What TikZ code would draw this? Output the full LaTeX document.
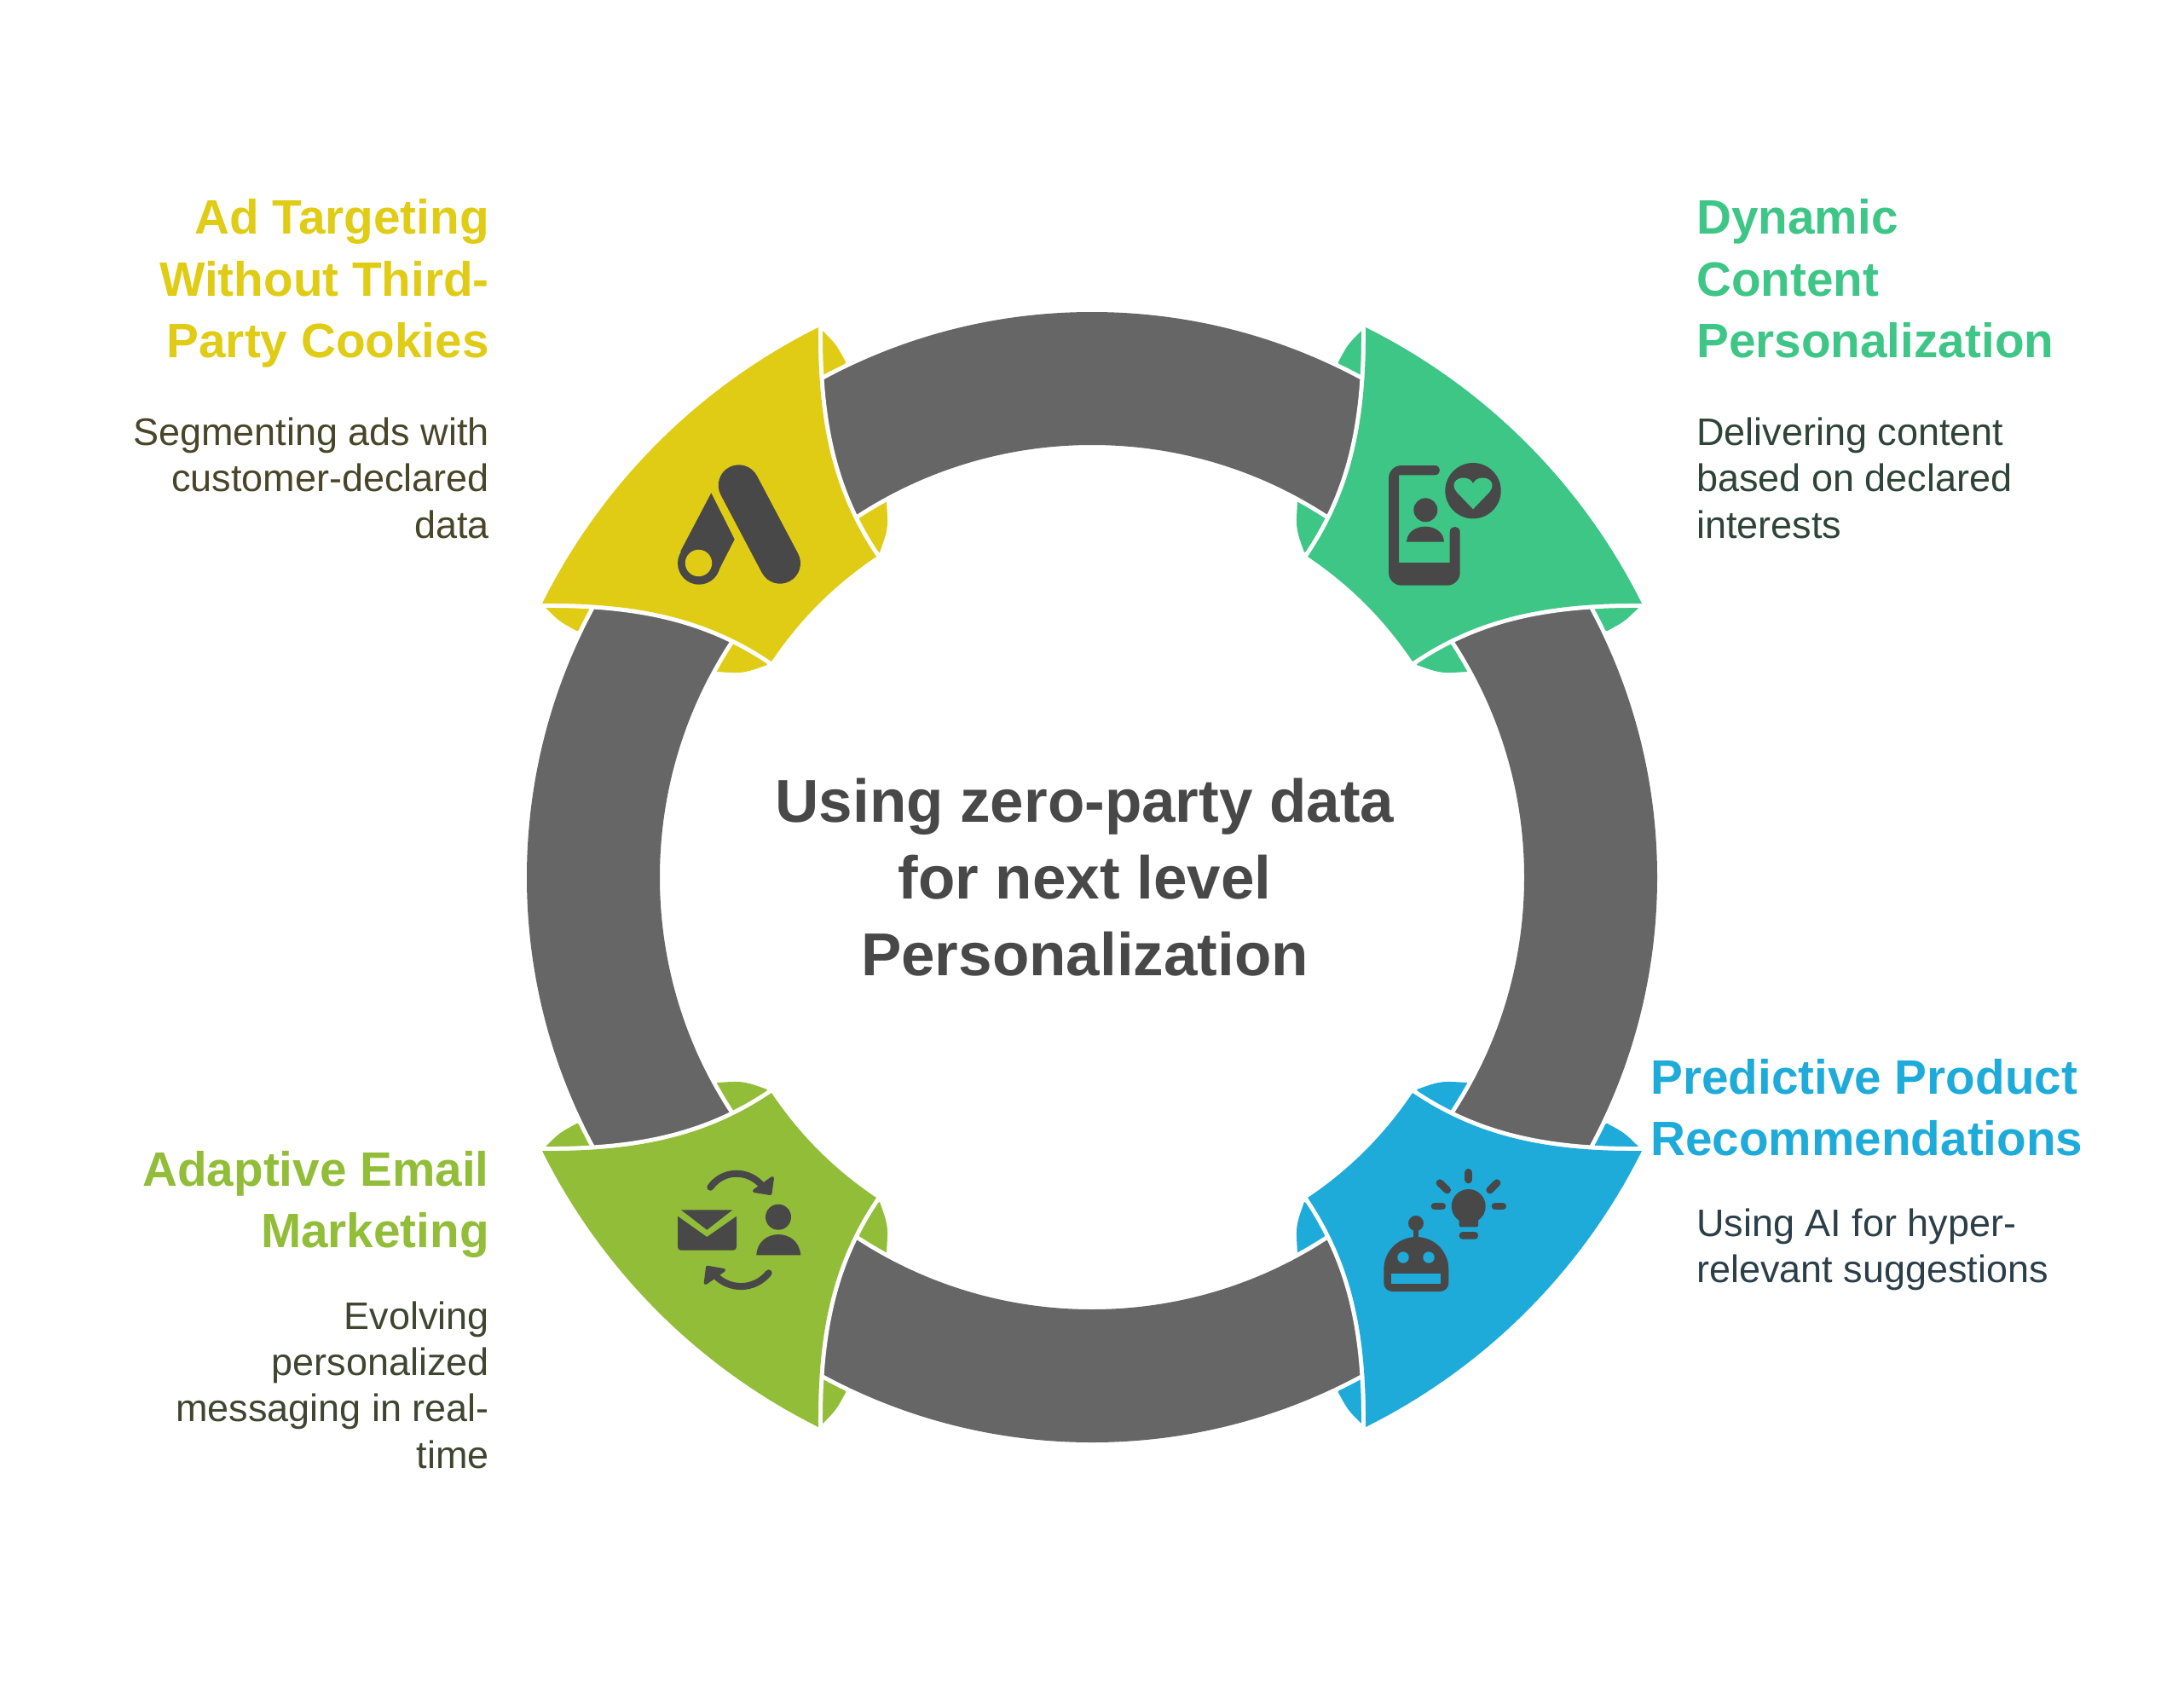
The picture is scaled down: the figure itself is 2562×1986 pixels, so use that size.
\documentclass[tikz,border=0pt]{standalone}
\usepackage{fontspec}
\setmainfont{Liberation Sans}
\definecolor{ringgray}{HTML}{666666}
\definecolor{icongray}{HTML}{484848}
\definecolor{adyellow}{HTML}{E0CC14}
\definecolor{contentgreen}{HTML}{3EC687}
\definecolor{mailolive}{HTML}{92BD39}
\definecolor{aiblue}{HTML}{1EABDA}
\definecolor{adbody}{HTML}{484528}
\definecolor{contentbody}{HTML}{2E4339}
\definecolor{mailbody}{HTML}{404530}
\definecolor{aibody}{HTML}{2C3F49}
\tikzset{
  halo/.style={preaction={draw=white, line width=10pt, line join=round}},
  head/.style={inner sep=0pt, font=\fontsize{56.7}{72.3}\selectfont\bfseries},
  body/.style={inner sep=0pt, font=\fontsize{45}{54.2}\selectfont},
  ray/.style={draw=icongray, line width=8.7pt, line cap=round},
  turn/.style={draw=icongray, line width=8pt, line cap=round},
  tip/.style={draw=icongray, fill=icongray, line width=4pt, line join=round},
}
\begin{document}
\begin{tikzpicture}[x=1pt, y=-1pt]
  \useasboundingbox (0,0) rectangle (2562,1986);
  \begin{scope}[shift={(1281,1029)}]
    % small tabs, they stay visible beside the ring
    \foreach \ang/\col in {0/adyellow, -90/contentgreen, -180/aiblue, -270/mailolive} {
      \begin{scope}[rotate=\ang]
        \fill[\col] (-317,-642) .. controls (-300,-625) .. (-288.7,-604) -- (-311,-559) -- (-326,-599) -- cycle;
        \fill[\col] (-241,-440) .. controls (-239,-409) .. (-249,-381) -- (-266,-389) -- (-296,-439) -- cycle;
        \fill[\col] (-642,-317) .. controls (-625,-300) .. (-604,-288.7) -- (-559,-311) -- (-599,-326) -- cycle;
        \fill[\col] (-440,-241) .. controls (-409,-239) .. (-381,-249) -- (-389,-266) -- (-439,-296) -- cycle;
      \end{scope}
    }
    % ring
    \path[halo, fill=ringgray, even odd rule] (0,0) circle[radius=663] (0,0) circle[radius=507];
    % tiles
    \foreach \ang/\col in {0/adyellow, -90/contentgreen, -180/aiblue, -270/mailolive} {
      \begin{scope}[rotate=\ang]
        \path[halo, fill=\col] (-321,-645)
          .. controls (-461.4,-575.1) and (-575.1,-461.4) .. (-645,-321)
          .. controls (-530,-322) and (-450,-303) .. (-376,-253)
          .. controls (-342.8,-302.4) and (-302.4,-342.8) .. (-253,-376)
          .. controls (-303,-450) and (-322,-530) .. cycle;
      \end{scope}
    }
  \end{scope}

  % ads icon
  \draw[icongray, line width=48pt, line cap=round] (866.7,569.3) -- (915,660.7);
  \fill[icongray] (834.3,578.3) -- (861.7,632.7) -- (841.7,671.7) -- (820,685) -- (798.3,646.7) -- cycle;
  \fill[icongray] (820,660.7) circle[radius=25];
  \fill[adyellow] (819.5,660.5) circle[radius=15.7];

  % phone icon
  \fill[icongray, even odd rule] (1683,546) [rounded corners=15pt] -- (1629,546) -- (1629,686.7) -- (1712.7,686.7) [sharp corners] -- (1712.7,624)
    .. controls (1712.7,616) and (1700.7,616) .. (1700.7,624) -- (1700.7,660) -- (1641,660) -- (1641,557.3) -- (1683,557.3)
    .. controls (1691,557.3) and (1691,546) .. (1683,546) -- cycle;
  \fill[icongray] (1672.3,598.3) circle[radius=14];
  \fill[icongray] (1650,635.7) .. controls (1651,611.7) and (1693,611.7) .. (1694,635.7) -- cycle;
  \fill[icongray] (1728,575.7) circle[radius=32.7];
  \fill[contentgreen] (1728,597.3) -- (1709,577.5) .. controls (1701,568) and (1708,560.5) .. (1716.5,560.5)
    .. controls (1722,560.5) and (1726,563) .. (1728,567) .. controls (1730,563) and (1734,560.5) .. (1739.5,560.5)
    .. controls (1748,560.5) and (1755,568) .. (1747,577.5) -- cycle;

  % mail icon
  \fill[icongray] (799,1419.3) -- (859.3,1419.3) -- (829.3,1442.7) -- cycle;
  \fill[icongray] (795,1426.7) -- (829.3,1451) -- (864,1426.7) [rounded corners=4pt] -- (864,1466.7) -- (795,1466.7) [sharp corners] -- cycle;
  \fill[icongray] (913,1427.7) circle[radius=15];
  \fill[icongray] (887.3,1472.3) .. controls (889,1440) and (937,1440) .. (939.3,1472.3) -- cycle;
  \draw[turn] (833.3,1392.7) .. controls (848,1372) and (878,1371) .. (895,1392);
  \path[tip] (906,1382) -- (903.5,1400) -- (885,1397) -- cycle;
  \draw[turn] (901.7,1493.3) .. controls (885,1514) and (855,1514) .. (838,1495);
  \path[tip] (830,1486.7) -- (827.7,1505) -- (849,1490) -- cycle;

  % bulb icon
  \fill[icongray] (1722.7,1415) circle[radius=20];
  \fill[icongray] (1711.7,1420) [rounded corners=2pt] -- (1711.7,1439.3) -- (1734,1439.3) -- (1734,1420) [sharp corners] -- cycle;
  \fill[icongray, rounded corners=4pt] (1711.7,1445) rectangle (1734,1453.7);
  \draw[ray] (1722.7,1375.3) -- (1722.7,1384);
  \draw[ray] (1689,1387.7) -- (1697.7,1396);
  \draw[ray] (1756,1387.7) -- (1747.7,1396);
  \draw[ray] (1683,1415) -- (1691.7,1415);
  \draw[ray] (1754,1415) -- (1762.7,1415);

  % robot icon
  \fill[icongray] (1661,1435) circle[radius=9];
  \fill[icongray] (1658.4,1440) rectangle (1663.7,1455);
  \fill[icongray] (1623.3,1489) .. controls (1623.3,1468) and (1640,1451) .. (1661.3,1451)
    .. controls (1682.6,1451) and (1699.3,1468) .. (1699.3,1489) [rounded corners=10pt] -- (1699.3,1515) -- (1623.3,1515) [sharp corners] -- cycle;
  \fill[aiblue] (1646,1475) circle[radius=6.7] (1676,1475) circle[radius=6.7];
  \fill[aiblue] (1632,1494) rectangle (1690,1505.7);

  % center text
  \node[inner sep=0pt, align=center, text=icongray, font=\fontsize{71}{90}\selectfont\bfseries, anchor=base] (center) at (1272.5,1144)
    {Using zero-party data\\for next level\\Personalization};

  % texts on the left
  \node[head, align=right, text=adyellow, anchor=base east] (adhead) at (574,419.5) {Ad Targeting\\Without Third-\\Party Cookies};
  \node[body, align=right, text=adbody, anchor=base east] (adtext) at (574,631) {Segmenting ads with\\customer-declared\\data};
  \node[head, align=right, text=mailolive, anchor=base east] (mailhead) at (574,1463.5) {Adaptive Email\\Marketing};
  \node[body, align=right, text=mailbody, anchor=base east] (mailtext) at (574,1722) {Evolving\\personalized\\messaging in real-\\time};

  % texts on the right
  \node[head, align=left, text=contentgreen, anchor=base west] (contenthead) at (1990,419.5) {Dynamic\\Content\\Personalization};
  \node[body, align=left, text=contentbody, anchor=base west] (contenttext) at (1990,631) {Delivering content\\based on declared\\interests};
  \node[head, align=left, text=aiblue, anchor=base west] (aihead) at (1936,1355.5) {Predictive Product\\Recommendations};
  \node[body, align=left, text=aibody, anchor=base west] (aitext) at (1990,1504.5) {Using AI for hyper-\\relevant suggestions};
\end{tikzpicture}
\end{document}
